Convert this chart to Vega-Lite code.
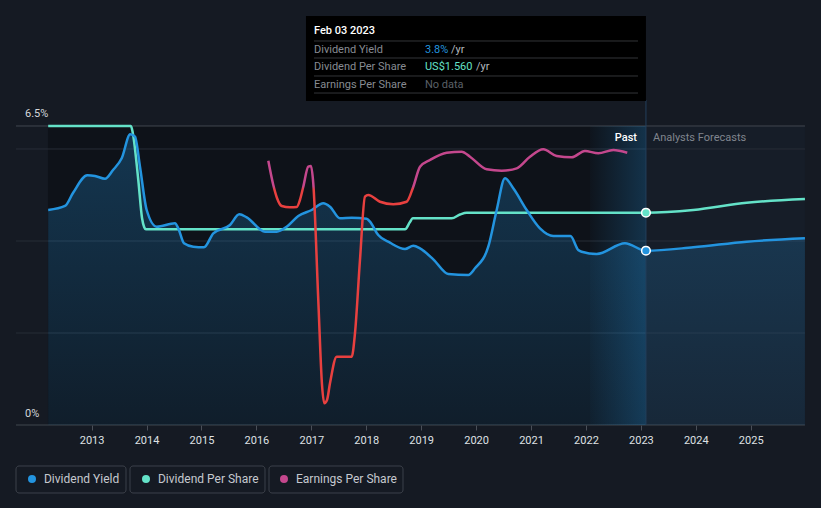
{
  "$schema": "https://vega.github.io/schema/vega-lite/v6.json",
  "width": 821,
  "height": 508,
  "padding": 0,
  "autosize": {"type": "none"},
  "background": "#151a23",
  "config": {"view": {"stroke": null}, "font": "Roboto", "text": {"font": "Roboto"}},
  "datasets": {
    "yield": [
      {"t": 2012.21, "v": 4.674}, {"t": 2012.516, "v": 4.761}, {"t": 2012.661, "v": 5.043}, {"t": 2012.922, "v": 5.428},
      {"t": 2013.062, "v": 5.413}, {"t": 2013.244, "v": 5.354}, {"t": 2013.39, "v": 5.543}, {"t": 2013.548, "v": 5.798},
      {"t": 2013.703, "v": 6.32}, {"t": 2013.79, "v": 6.267}, {"t": 2013.881, "v": 5.615}, {"t": 2014.003, "v": 4.674},
      {"t": 2014.185, "v": 4.311}, {"t": 2014.518, "v": 4.385}, {"t": 2014.578, "v": 4.276}, {"t": 2014.682, "v": 3.95},
      {"t": 2014.851, "v": 3.876}, {"t": 2015.046, "v": 3.863}, {"t": 2015.216, "v": 4.167}, {"t": 2015.52, "v": 4.348},
      {"t": 2015.689, "v": 4.58}, {"t": 2015.824, "v": 4.515}, {"t": 2016.157, "v": 4.202}, {"t": 2016.37, "v": 4.202},
      {"t": 2016.552, "v": 4.311}, {"t": 2016.763, "v": 4.543}, {"t": 2017.007, "v": 4.674}, {"t": 2017.218, "v": 4.82},
      {"t": 2017.34, "v": 4.746}, {"t": 2017.522, "v": 4.493}, {"t": 2017.735, "v": 4.507}, {"t": 2018.008, "v": 4.485},
      {"t": 2018.068, "v": 4.42}, {"t": 2018.219, "v": 4.13}, {"t": 2018.432, "v": 3.963}, {"t": 2018.706, "v": 3.826},
      {"t": 2018.857, "v": 3.898}, {"t": 2018.979, "v": 3.841}, {"t": 2019.221, "v": 3.602}, {"t": 2019.494, "v": 3.283},
      {"t": 2019.858, "v": 3.261}, {"t": 2019.98, "v": 3.407}, {"t": 2020.222, "v": 3.876}, {"t": 2020.375, "v": 4.674},
      {"t": 2020.526, "v": 5.363}, {"t": 2020.677, "v": 5.146}, {"t": 2020.921, "v": 4.674}, {"t": 2021.163, "v": 4.276},
      {"t": 2021.405, "v": 4.109}, {"t": 2021.718, "v": 4.109}, {"t": 2021.86, "v": 3.804}, {"t": 2021.922, "v": 3.767},
      {"t": 2022.195, "v": 3.717}, {"t": 2022.711, "v": 3.95}, {"t": 2023.092, "v": 3.789}, {"t": 2023.954, "v": 3.863},
      {"t": 2024.926, "v": 3.985}, {"t": 2025.987, "v": 4.059}
    ],
    "dps": [
      {"t": 2012.21, "v": 6.5}, {"t": 2013.716, "v": 6.5}, {"t": 2013.75, "v": 6.35}, {"t": 2013.85, "v": 5.326},
      {"t": 2013.918, "v": 4.5}, {"t": 2013.958, "v": 4.3}, {"t": 2013.99, "v": 4.254}, {"t": 2018.706, "v": 4.254},
      {"t": 2018.796, "v": 4.413}, {"t": 2018.846, "v": 4.493}, {"t": 2019.556, "v": 4.493}, {"t": 2019.707, "v": 4.576},
      {"t": 2019.829, "v": 4.615}, {"t": 2023.092, "v": 4.615}, {"t": 2023.954, "v": 4.674}, {"t": 2024.926, "v": 4.833},
      {"t": 2025.987, "v": 4.913}
    ],
    "eps": [
      {"t": 2016.217, "v": 5.746}, {"t": 2016.308, "v": 5.217}, {"t": 2016.375, "v": 4.935}, {"t": 2016.461, "v": 4.761},
      {"t": 2016.612, "v": 4.733}, {"t": 2016.734, "v": 4.739}, {"t": 2016.793, "v": 4.891}, {"t": 2016.854, "v": 5.18},
      {"t": 2016.945, "v": 5.615}, {"t": 2016.994, "v": 5.63}, {"t": 2017.036, "v": 5.254}, {"t": 2017.127, "v": 2.717},
      {"t": 2017.195, "v": 0.87}, {"t": 2017.236, "v": 0.472}, {"t": 2017.286, "v": 0.543}, {"t": 2017.34, "v": 0.907},
      {"t": 2017.462, "v": 1.485}, {"t": 2017.735, "v": 1.485}, {"t": 2017.795, "v": 1.993}, {"t": 2017.886, "v": 3.587},
      {"t": 2017.977, "v": 4.963}, {"t": 2018.037, "v": 5.0}, {"t": 2018.25, "v": 4.854}, {"t": 2018.493, "v": 4.798},
      {"t": 2018.736, "v": 4.854}, {"t": 2018.857, "v": 5.18}, {"t": 2018.979, "v": 5.615}, {"t": 2019.161, "v": 5.761},
      {"t": 2019.465, "v": 5.92}, {"t": 2019.738, "v": 5.941}, {"t": 2019.889, "v": 5.833}, {"t": 2020.193, "v": 5.559},
      {"t": 2020.466, "v": 5.528}, {"t": 2020.739, "v": 5.58}, {"t": 2020.981, "v": 5.833}, {"t": 2021.223, "v": 5.993},
      {"t": 2021.467, "v": 5.848}, {"t": 2021.74, "v": 5.82}, {"t": 2021.982, "v": 5.957}, {"t": 2022.225, "v": 5.907},
      {"t": 2022.498, "v": 5.978}, {"t": 2022.752, "v": 5.92}
    ]
  },
  "encoding": {
    "x": {
      "field": "t", "type": "quantitative",
      "scale": {"domain": [2011.3324, 2026.2794], "nice": false, "zero": false},
      "axis": {
        "orient": "bottom", "offset": -83,
        "values": [2013, 2014, 2015, 2016, 2017, 2018, 2019, 2020, 2021, 2022, 2023, 2024, 2025],
        "format": "d", "grid": false, "domain": false, "ticks": true,
        "tickColor": "#4a4f58", "tickSize": 5, "labelColor": "#dfe1e4", "labelFontSize": 11,
        "labelFont": "Roboto", "labelPadding": 4, "title": null
      }
    },
    "y": {
      "field": "v", "type": "quantitative",
      "scale": {"domain": [-1.8043, 9.2391], "nice": false, "zero": false},
      "axis": null
    }
  },
  "layer": [
    {
      "data": {"values": [{"t": 2012.2062, "t2": 2023.0924, "v": 0, "v2": 6.5}]},
      "mark": {"type": "rect", "fill": "#0e1219"},
      "encoding": {"x2": {"field": "t2"}, "y2": {"field": "v2"}}
    },
    {
      "data": {"values": [{"t": 2023.0924, "t2": 2025.9874, "v": 0, "v2": 6.5}]},
      "mark": {"type": "rect", "fill": "#161d28"},
      "encoding": {"x2": {"field": "t2"}, "y2": {"field": "v2"}}
    },
    {
      "data": {"values": [{"t": 2011.6237, "t2": 2025.9874, "v": 6.0}, {"t": 2011.6237, "t2": 2025.9874, "v": 4.0}, {"t": 2011.6237, "t2": 2025.9874, "v": 2.0}]},
      "mark": {"type": "rule", "stroke": "#272d37", "strokeWidth": 1},
      "encoding": {"x2": {"field": "t2"}}
    },
    {
      "data": {"values": [{"t": 2011.6237, "t2": 2025.9874, "v": 6.5}, {"t": 2011.6237, "t2": 2025.9874, "v": 0}]},
      "mark": {"type": "rule", "stroke": "#41464f", "strokeWidth": 1},
      "encoding": {"x2": {"field": "t2"}}
    },
    {
      "data": {"name": "yield"},
      "mark": {
        "type": "area", "interpolate": "monotone",
        "fill": {"gradient": "linear", "x1": 0, "y1": 0, "x2": 0, "y2": 1,
          "stops": [{"offset": 0, "color": "rgba(35,148,223,0.28)"}, {"offset": 1, "color": "rgba(35,148,223,0.09)"}]}
      },
      "encoding": {"y2": {"datum": 0}}
    },
    {
      "data": {"values": [{"t": 2022.0734, "t2": 2023.0924, "v": 0, "v2": 6.5}]},
      "mark": {
        "type": "rect",
        "fill": {"gradient": "linear", "x1": 0, "y1": 0, "x2": 1, "y2": 0,
          "stops": [{"offset": 0, "color": "rgba(35,148,223,0.02)"}, {"offset": 1, "color": "rgba(35,148,223,0.25)"}]}
      },
      "encoding": {"x2": {"field": "t2"}, "y2": {"field": "v2"}}
    },
    {
      "data": {"values": [{"t": 2023.0924, "v": 0, "v2": 7.065}]},
      "mark": {"type": "rule", "stroke": "#223f5c", "strokeWidth": 1},
      "encoding": {"y2": {"field": "v2"}}
    },
    {
      "data": {"name": "dps"},
      "mark": {"type": "line", "interpolate": "monotone", "stroke": "#64e2c8", "strokeWidth": 2.5}
    },
    {
      "data": {"name": "yield"},
      "mark": {"type": "line", "interpolate": "monotone", "stroke": "#2394df", "strokeWidth": 2.5}
    },
    {
      "data": {"name": "eps"},
      "mark": {
        "type": "line", "interpolate": "monotone", "strokeWidth": 2.5,
        "stroke": {"gradient": "linear", "x1": 0, "y1": 0, "x2": 0, "y2": 1,
          "stops": [{"offset": 0, "color": "#c4478d"}, {"offset": 0.145, "color": "#c4478d"}, {"offset": 0.16, "color": "#e8403f"}, {"offset": 1, "color": "#e8403f"}]}
      }
    },
    {
      "data": {"values": [{"t": 2023.0924, "v": 4.615}]},
      "mark": {"type": "circle", "fill": "#64e2c8", "stroke": "#ffffff", "strokeWidth": 1.5, "size": 75, "opacity": 1}
    },
    {
      "data": {"values": [{"t": 2023.0924, "v": 3.789}]},
      "mark": {"type": "circle", "fill": "#2394df", "stroke": "#ffffff", "strokeWidth": 1.5, "size": 75, "opacity": 1}
    },
    {
      "data": {"values": [{"t": 2011.7875, "v": 6.761, "label": "6.5%"}, {"t": 2011.7875, "v": 0.239, "label": "0%"}]},
      "mark": {"type": "text", "align": "left", "baseline": "middle", "fontSize": 11, "color": "#d4d7db"},
      "encoding": {"text": {"field": "label"}}
    },
    {
      "data": {"values": [{"t": 2022.9293, "v": 6.239, "label": "Past"}]},
      "mark": {"type": "text", "align": "right", "baseline": "middle", "fontSize": 11, "fontWeight": 500, "color": "#ffffff"},
      "encoding": {"text": {"field": "label"}}
    },
    {
      "data": {"values": [{"t": 2023.2203, "v": 6.239, "label": "Analysts Forecasts"}]},
      "mark": {"type": "text", "align": "left", "baseline": "middle", "fontSize": 11, "color": "#80858e"},
      "encoding": {"text": {"field": "label"}}
    },
    {
      "data": {"values": [{"t": 2016.9031, "t2": 2023.0924, "v": 7.043, "v2": 8.891}]},
      "mark": {"type": "rect", "fill": "#000000"},
      "encoding": {"x2": {"field": "t2"}, "y2": {"field": "v2"}}
    },
    {
      "data": {"values": [{"t": 2017.0487, "t2": 2022.9475, "v": 8.348}, {"t": 2017.0487, "t2": 2022.9475, "v": 7.978}, {"t": 2017.0487, "t2": 2022.9475, "v": 7.587}, {"t": 2017.0487, "t2": 2022.9475, "v": 7.217}]},
      "mark": {"type": "rule", "stroke": "#333538", "strokeWidth": 1},
      "encoding": {"x2": {"field": "t2"}}
    },
    {
      "data": {"values": [{"t": 2017.0487, "v": 8.565, "label": "Feb 03 2023"}]},
      "mark": {"type": "text", "align": "left", "baseline": "middle", "fontSize": 11, "fontWeight": 500, "color": "#ffffff"},
      "encoding": {"text": {"field": "label"}}
    },
    {
      "data": {"values": [{"t": 2017.0487, "v": 8.163, "label": "Dividend Yield"}, {"t": 2017.0487, "v": 7.793, "label": "Dividend Per Share"}, {"t": 2017.0487, "v": 7.402, "label": "Earnings Per Share"}]},
      "mark": {"type": "text", "align": "left", "baseline": "middle", "fontSize": 11, "color": "#878b92"},
      "encoding": {"text": {"field": "label"}}
    },
    {
      "data": {"values": [{"t": 2019.0695, "v": 8.163, "label": "3.8%"}]},
      "mark": {"type": "text", "align": "left", "baseline": "middle", "fontSize": 11, "color": "#2394df"},
      "encoding": {"text": {"field": "label"}}
    },
    {
      "data": {"values": [{"t": 2019.0695, "v": 7.793, "label": "US$1.560"}]},
      "mark": {"type": "text", "align": "left", "baseline": "middle", "fontSize": 11, "color": "#64e2c8"},
      "encoding": {"text": {"field": "label"}}
    },
    {
      "data": {"values": [{"t": 2019.0695, "v": 7.402, "label": "No data"}]},
      "mark": {"type": "text", "align": "left", "baseline": "middle", "fontSize": 11, "color": "#5b6068"},
      "encoding": {"text": {"field": "label"}}
    },
    {
      "data": {"values": [{"t": 2019.5428, "v": 8.163, "label": "/yr"}, {"t": 2019.998, "v": 7.793, "label": "/yr"}]},
      "mark": {"type": "text", "align": "left", "baseline": "middle", "fontSize": 11, "color": "#b4b8be"},
      "encoding": {"text": {"field": "label"}}
    },
    {
      "data": {"values": [{"t": 2011.6237, "t2": 2013.6262, "v": -0.891, "v2": -1.478}, {"t": 2013.6991, "t2": 2016.1567, "v": -0.891, "v2": -1.478}, {"t": 2016.2296, "t2": 2018.6691, "v": -0.891, "v2": -1.478}]},
      "mark": {"type": "rect", "fill": "#151a23", "stroke": "#3c414a", "strokeWidth": 1, "cornerRadius": 3},
      "encoding": {"x2": {"field": "t2"}, "y2": {"field": "v2"}}
    },
    {
      "data": {"values": [{"t": 2011.915, "v": -1.174}]},
      "mark": {"type": "circle", "fill": "#2394df", "size": 64, "opacity": 1}
    },
    {
      "data": {"values": [{"t": 2013.9903, "v": -1.174}]},
      "mark": {"type": "circle", "fill": "#64e2c8", "size": 64, "opacity": 1}
    },
    {
      "data": {"values": [{"t": 2016.5026, "v": -1.174}]},
      "mark": {"type": "circle", "fill": "#c4478d", "size": 64, "opacity": 1}
    },
    {
      "data": {"values": [{"t": 2012.1334, "v": -1.174, "label": "Dividend Yield"}, {"t": 2014.2088, "v": -1.174, "label": "Dividend Per Share"}, {"t": 2016.7211, "v": -1.174, "label": "Earnings Per Share"}]},
      "mark": {"type": "text", "align": "left", "baseline": "middle", "fontSize": 12, "color": "#c5c9cf"},
      "encoding": {"text": {"field": "label"}}
    }
  ]
}
